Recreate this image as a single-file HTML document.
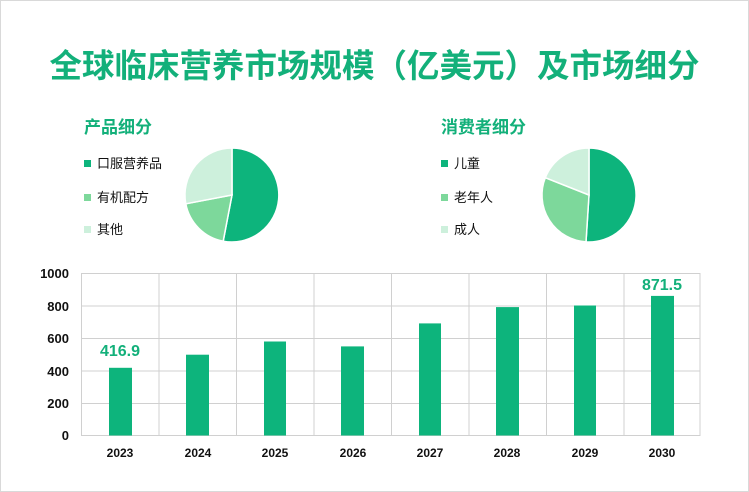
<!DOCTYPE html>
<html><head><meta charset="utf-8"><style>
html,body{margin:0;padding:0;background:#fff;}
svg{display:block;font-family:"Liberation Sans","Noto Sans CJK SC",sans-serif;}
</style></head><body>
<svg width="749" height="492" viewBox="0 0 749 492" xmlns="http://www.w3.org/2000/svg">
<rect x="0.5" y="0.5" width="748" height="491" fill="#fff" stroke="#d9d9d9"/>
<text x="374.5" y="77" text-anchor="middle" font-size="32.5" font-weight="bold" fill="#13b07a">全球临床营养市场规模（亿美元）及市场细分</text>
<text x="84" y="133" font-size="17" font-weight="bold" fill="#13b07a">产品细分</text>
<text x="441" y="133" font-size="17" font-weight="bold" fill="#13b07a">消费者细分</text>
<g font-size="13" fill="#111">
<rect x="84" y="160" width="7" height="7" fill="#0db47c"/><text x="97" y="168">口服营养品</text>
<rect x="84" y="194" width="7" height="7" fill="#7dd89b"/><text x="97" y="202">有机配方</text>
<rect x="84" y="226" width="7" height="7" fill="#cdf0dc"/><text x="97" y="234">其他</text>
<rect x="441" y="160" width="7" height="7" fill="#0db47c"/><text x="454" y="168">儿童</text>
<rect x="441" y="194" width="7" height="7" fill="#7dd89b"/><text x="454" y="202">老年人</text>
<rect x="441" y="226" width="7" height="7" fill="#cdf0dc"/><text x="454" y="234">成人</text>
</g>
<g stroke="#fff" stroke-width="1.5">
<path d="M232,195 L232,148 A47,47 0 1 1 223.2,241.2 Z" fill="#0db47c"/>
<path d="M232,195 L223.2,241.2 A47,47 0 0 1 185.8,203.8 Z" fill="#7dd89b"/>
<path d="M232,195 L185.8,203.8 A47,47 0 0 1 232,148 Z" fill="#cdf0dc"/>
<path d="M589,195 L589,148 A47,47 0 1 1 586,241.9 Z" fill="#0db47c"/>
<path d="M589,195 L586,241.9 A47,47 0 0 1 545.3,177.7 Z" fill="#7dd89b"/>
<path d="M589,195 L545.3,177.7 A47,47 0 0 1 589,148 Z" fill="#cdf0dc"/>
</g>
<g stroke="#d0d0d0" stroke-width="1">
<line x1="81" y1="273.5" x2="700" y2="273.5"/>
<line x1="81" y1="306" x2="700" y2="306"/>
<line x1="81" y1="338.5" x2="700" y2="338.5"/>
<line x1="81" y1="371" x2="700" y2="371"/>
<line x1="81" y1="403.5" x2="700" y2="403.5"/>
<line x1="81" y1="435.5" x2="700" y2="435.5"/>
<line x1="81.5" y1="273" x2="81.5" y2="436"/>
<line x1="159" y1="273" x2="159" y2="436"/>
<line x1="236.5" y1="273" x2="236.5" y2="436"/>
<line x1="314" y1="273" x2="314" y2="436"/>
<line x1="391.5" y1="273" x2="391.5" y2="436"/>
<line x1="469" y1="273" x2="469" y2="436"/>
<line x1="546.5" y1="273" x2="546.5" y2="436"/>
<line x1="624" y1="273" x2="624" y2="436"/>
<line x1="700" y1="273" x2="700" y2="436"/>
</g>
<g fill="#0db47c">
<rect x="109" y="367.8" width="23" height="67.7"/>
<rect x="186" y="354.7" width="23" height="80.8"/>
<rect x="264" y="341.5" width="22" height="94"/>
<rect x="341" y="346.4" width="23" height="89.1"/>
<rect x="419" y="323.4" width="22" height="112.1"/>
<rect x="496" y="307.1" width="23" height="128.4"/>
<rect x="574" y="305.5" width="22" height="130"/>
<rect x="651" y="295.9" width="23" height="139.6"/>
</g>
<g font-size="13" font-weight="bold" fill="#111" text-anchor="end">
<text x="69" y="278">1000</text><text x="69" y="311">800</text><text x="69" y="343">600</text>
<text x="69" y="376">400</text><text x="69" y="408">200</text><text x="69" y="440">0</text>
</g>
<g font-size="12" font-weight="bold" fill="#111" text-anchor="middle">
<text x="120" y="457">2023</text><text x="198" y="457">2024</text><text x="275" y="457">2025</text>
<text x="353" y="457">2026</text><text x="430" y="457">2027</text><text x="507" y="457">2028</text>
<text x="585" y="457">2029</text><text x="662" y="457">2030</text>
</g>
<g font-size="16" font-weight="bold" fill="#13b07a" text-anchor="middle">
<text x="120" y="356">416.9</text><text x="662" y="290">871.5</text>
</g>
</svg>
</body></html>
